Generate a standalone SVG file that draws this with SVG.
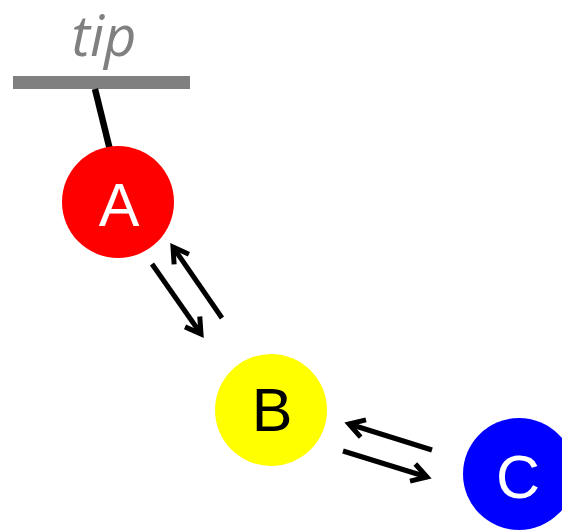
<svg xmlns="http://www.w3.org/2000/svg" width="562" height="530" viewBox="0 0 562 530">
  <defs>
    <style>
      .lbl { font-family: "Liberation Sans", Arial, sans-serif; font-size: 61px; text-anchor: middle; }
      .tip { font-family: "Open Sans", "DejaVu Sans", sans-serif; font-style: italic; font-size: 56px; text-anchor: middle; fill: #808080; }
      .link { stroke: #000; stroke-width: 5; fill: none; }
    </style>
    <marker id="head" markerUnits="userSpaceOnUse" orient="auto" refX="0" refY="0" markerWidth="30" markerHeight="30" viewBox="-20 -15 30 30" overflow="visible">
      <path d="M -15 -9 L 0 0 L -15 9" fill="none" stroke="#000" stroke-width="5" stroke-linejoin="miter"/>
    </marker>
  </defs>
  <rect width="562" height="530" fill="#fff"/>

  <!-- tip anchor -->
  <g id="tip">
    <text x="104" y="56" class="tip">tip</text>
    <rect x="13" y="76" width="177" height="13" fill="#808080"/>
  </g>

  <g id="connectors">
    <line x1="95" y1="89" x2="110" y2="150" stroke="#000" stroke-width="6.5"/>
    <line class="link" x1="152" y1="264" x2="201" y2="334" marker-end="url(#head)"/>
    <line class="link" x1="222" y1="318" x2="173" y2="247" marker-end="url(#head)"/>
    <line class="link" x1="432" y1="450" x2="349" y2="424" marker-end="url(#head)"/>
    <line class="link" x1="343" y1="451" x2="427" y2="477" marker-end="url(#head)"/>
  </g>

  <g id="A">
    <circle cx="118" cy="202" r="56" fill="#ff0000"/>
    <text x="119" y="226" class="lbl" fill="#fff">A</text>
  </g>
  <g id="B">
    <circle cx="271" cy="410" r="56" fill="#ffff00"/>
    <text x="272" y="431" class="lbl" fill="#000">B</text>
  </g>
  <g id="C">
    <circle cx="519" cy="474" r="56" fill="#0000ff"/>
    <text x="518" y="498" class="lbl" fill="#fff">C</text>
  </g>
</svg>
